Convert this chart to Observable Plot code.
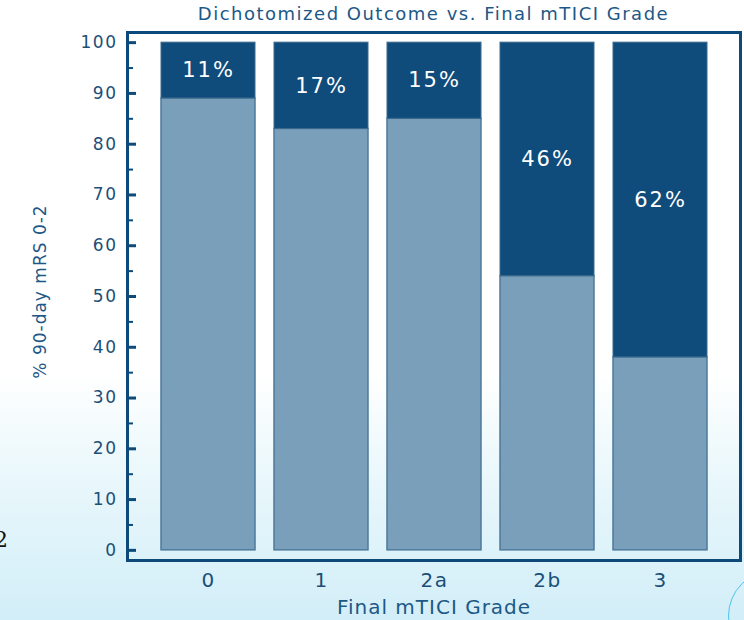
<!DOCTYPE html>
<html>
<head>
<meta charset="utf-8">
<script src="https://cdn.jsdelivr.net/npm/d3@7"></script>
<script src="https://cdn.jsdelivr.net/npm/@observablehq/plot@0.6"></script>
<style>
  html, body { margin: 0; padding: 0; }
  body {
    width: 744px; height: 620px; overflow: hidden; position: relative;
    font-family: "DejaVu Sans", sans-serif;
    background: linear-gradient(to bottom, #ffffff 0%, #ffffff 60%, #e6f6fb 80%, #d2eef8 100%);
  }
  #title {
    height: 30px; line-height: 28px; box-sizing: border-box;
    padding-left: 127px; padding-right: 4px; text-align: center;
    font-size: 18px; letter-spacing: 1.5px; color: #1d5886; white-space: nowrap;
  }
  #slide { position: absolute; left: -6px; top: 527px; font-family: "DejaVu Serif", serif; font-size: 22px; color: #111; }
  #arc { position: absolute; left: 728px; top: 570px; width: 90px; height: 90px; border: 1.5px solid #4cc4ec; border-radius: 50%; }
</style>
</head>
<body>
<div id="title">Dichotomized Outcome vs. Final mTICI Grade</div>
<div id="chart"></div>
<div id="slide">2</div>
<div id="arc"></div>
<script>
const grades = ["0", "1", "2a", "2b", "3"];
const goodPct = [11, 17, 15, 46, 62];
const yTicks = [0, 10, 20, 30, 40, 50, 60, 70, 80, 90, 100];
const yMinorTicks = [5, 15, 25, 35, 45, 55, 65, 75, 85, 95];
const xTitle = "Final mTICI Grade";
const yTitle = "% 90-day mRS 0-2";

const rows = grades.map((g, i) => ({grade: g, good: goodPct[i], poor: 100 - goodPct[i]}));

const W = 744, H = 587, ML = 127, MR = 4, MT = 2, MB = 57;
const plotW = W - ML - MR;
const dark = "#0f4c7b", light = "#7a9fba", edge = "#4f7a9b", axisCol = "#0d4a7a", textCol = "#1c4f78";

const chart = Plot.plot({
  width: W, height: H,
  marginLeft: ML, marginRight: MR, marginTop: MT, marginBottom: MB,
  style: {background: "transparent", fontFamily: "DejaVu Sans, sans-serif"},
  x: {domain: grades, paddingInner: 0.172, paddingOuter: 0.29, label: null},
  y: {domain: [-2, 102], label: null},
  marks: [
    Plot.barY(rows, {x: "grade", y1: 0, y2: "poor", fill: light, stroke: edge, strokeWidth: 1.5}),
    Plot.barY(rows, {x: "grade", y1: "poor", y2: 100, fill: dark, stroke: "#3d6a8e", strokeWidth: 1}),
    Plot.text(rows, {x: "grade", y: d => 100 - d.good / 2, text: d => d.good + "%", fill: "white", fontSize: 21}),
    Plot.tickY(yTicks, {y: d => d, stroke: axisCol, strokeWidth: 3, insetRight: plotW - 9}),
    Plot.tickY(yMinorTicks, {y: d => d, stroke: axisCol, strokeWidth: 2, insetRight: plotW - 6}),
    Plot.axisY(yTicks, {tickSize: 0, tickPadding: 10, fontSize: 17, color: textCol, label: null}),
    Plot.axisX({tickSize: 0, tickPadding: 12, fontSize: 20, color: textCol, label: null}),
    Plot.text([yTitle], {frameAnchor: "left", textAnchor: "middle", dx: -87, dy: -5, rotate: -90, fontSize: 17, fill: "#1d5886"}),
    Plot.text([xTitle], {frameAnchor: "bottom", textAnchor: "middle", dy: 53, fontSize: 20, fill: "#1d5886"}),
    Plot.frame({stroke: axisCol, strokeWidth: 3})
  ]
});
const pctTexts = goodPct.map(v => v + "%");
chart.querySelectorAll("text").forEach(t => {
  const s = t.textContent;
  let ls = null;
  if (pctTexts.includes(s)) ls = "2px";
  else if (s === yTitle || s === xTitle) ls = "1px";
  else if (grades.includes(s) || yTicks.map(String).includes(s)) ls = "1.5px";
  if (ls) t.setAttribute("letter-spacing", ls);
});
document.getElementById("chart").appendChild(chart);
</script>
</body>
</html>
